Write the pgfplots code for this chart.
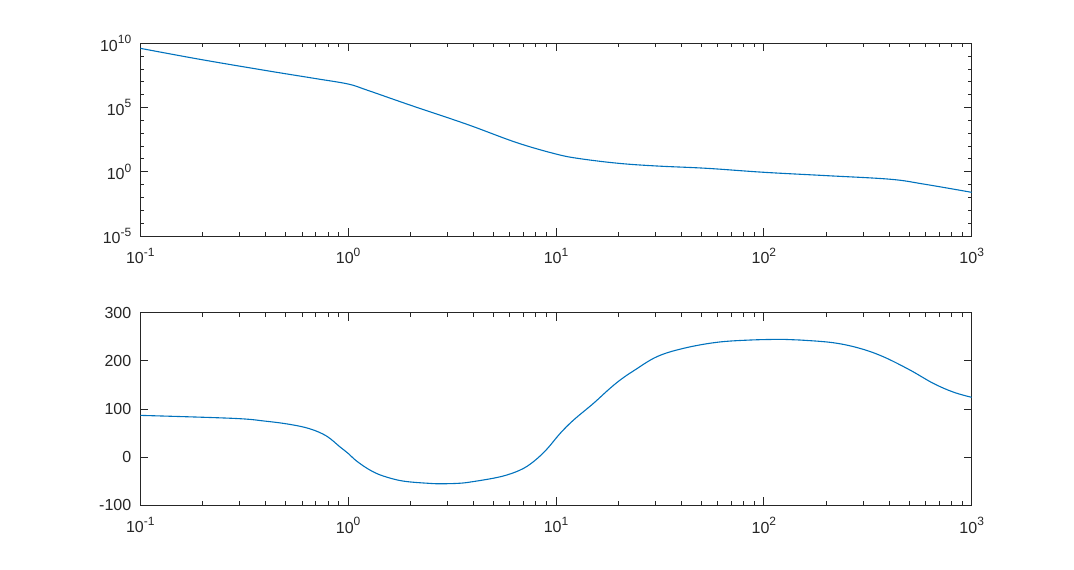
\documentclass[border=0pt]{standalone}
\usepackage{pgfplots}
\pgfplotsset{compat=1.18}
\usepackage{fontspec}
\setmainfont{Liberation Sans}
\definecolor{mblue}{rgb}{0,0.447,0.741}
\definecolor{maxis}{rgb}{0.15,0.15,0.15}
\newcommand{\sps}[1]{\raisebox{0.45em}{\fontsize{6}{7}\selectfont #1}}
\pgfplotsset{mstyle/.style={
  scale only axis, width=415.7pt, height=96.35pt,
  xmin=0.1, xmax=1000,
  anchor=north west,
  axis line style={maxis, line width=0.5pt},
  every tick/.style={maxis, line width=0.5pt},
  tick align=inside, major tick length=4pt, minor tick length=2pt,
  tick label style={font=\fontsize{8}{9.5}\selectfont, text=maxis},
  xtick={0.1,1,10,100,1000},
  xticklabels={10\sps{-1},10\sps{0},10\sps{1},10\sps{2},10\sps{3}},
  minor xtick={0.2,0.3,0.4,0.5,0.6,0.7,0.8,0.9,2,3,4,5,6,7,8,9,20,30,40,50,60,70,80,90,200,300,400,500,600,700,800,900},
  xticklabel style={yshift=-2.5pt},
  yticklabel style={xshift=-1pt},
}}
\begin{document}
\begin{tikzpicture}
\path[use as bounding box] (0,0) rectangle (537pt,-284.5pt);
\begin{axis}[xmode=log, ymode=log, mstyle, at={(70.15pt,-21.65pt)},
  ymin=1e-5, ymax=1e10,
  ytick={1e-5,1,1e5,1e10},
  yticklabels={10\sps{-5},10\sps{0},10\sps{5},10\sps{10}},
  minor ytick={1e-4,1e-3,1e-2,1e-1,10,100,1000,1e4,1e6,1e7,1e8,1e9}]
\addplot[mblue, line width=0.55pt, smooth, tension=0.6] coordinates {
(0.1,4.07e9) (0.194,5.62e8) (0.406,7.41e7) (0.7,1.78e7) (1,6.76e6) (1.227,2.34e6)
(1.98,1.58e5) (3.72,5.01e3) (6.47,186) (10.07,23.4) (13.03,10.5) (19.95,4.57)
(30.5,2.82) (53.1,1.86) (100,0.912) (199.5,0.501) (404.6,0.263) (584.8,0.112) (1000,0.0251)
};
\end{axis}
\begin{axis}[xmode=log, mstyle, at={(70.15pt,-156.35pt)},
  ymin=-100, ymax=300,
  ytick={-100,0,100,200,300},
  yticklabels={-100,0,100,200,300}]
\addplot[mblue, line width=0.55pt, smooth, tension=0.6] coordinates {
(0.1,86.9) (0.280,80.7) (0.398,75) (0.524,68.2) (0.655,59) (0.787,44) (0.912,21.7)
(1,8) (1.099,-8) (1.274,-26.7) (1.476,-39) (1.841,-49.5) (2.472,-54.3) (2.818,-55)
(3.327,-54.3) (3.855,-51.6) (5.383,-40.6) (6.714,-26.7) (7.780,-9.4) (9.016,16.3)
(10.47,49.5) (12.13,77) (15.14,111.8) (17.86,140) (20.32,160) (23.55,179)
(30.55,208.6) (41.02,226) (59.29,238.5) (85.90,243.3) (124.2,244.7) (149.3,243.3)
(215.8,237.7) (289.7,226) (375.8,208.6) (504.7,181) (653.1,153.4) (814.7,135.3) (1000,124.3)
};
\end{axis}
\end{tikzpicture}
\end{document}
